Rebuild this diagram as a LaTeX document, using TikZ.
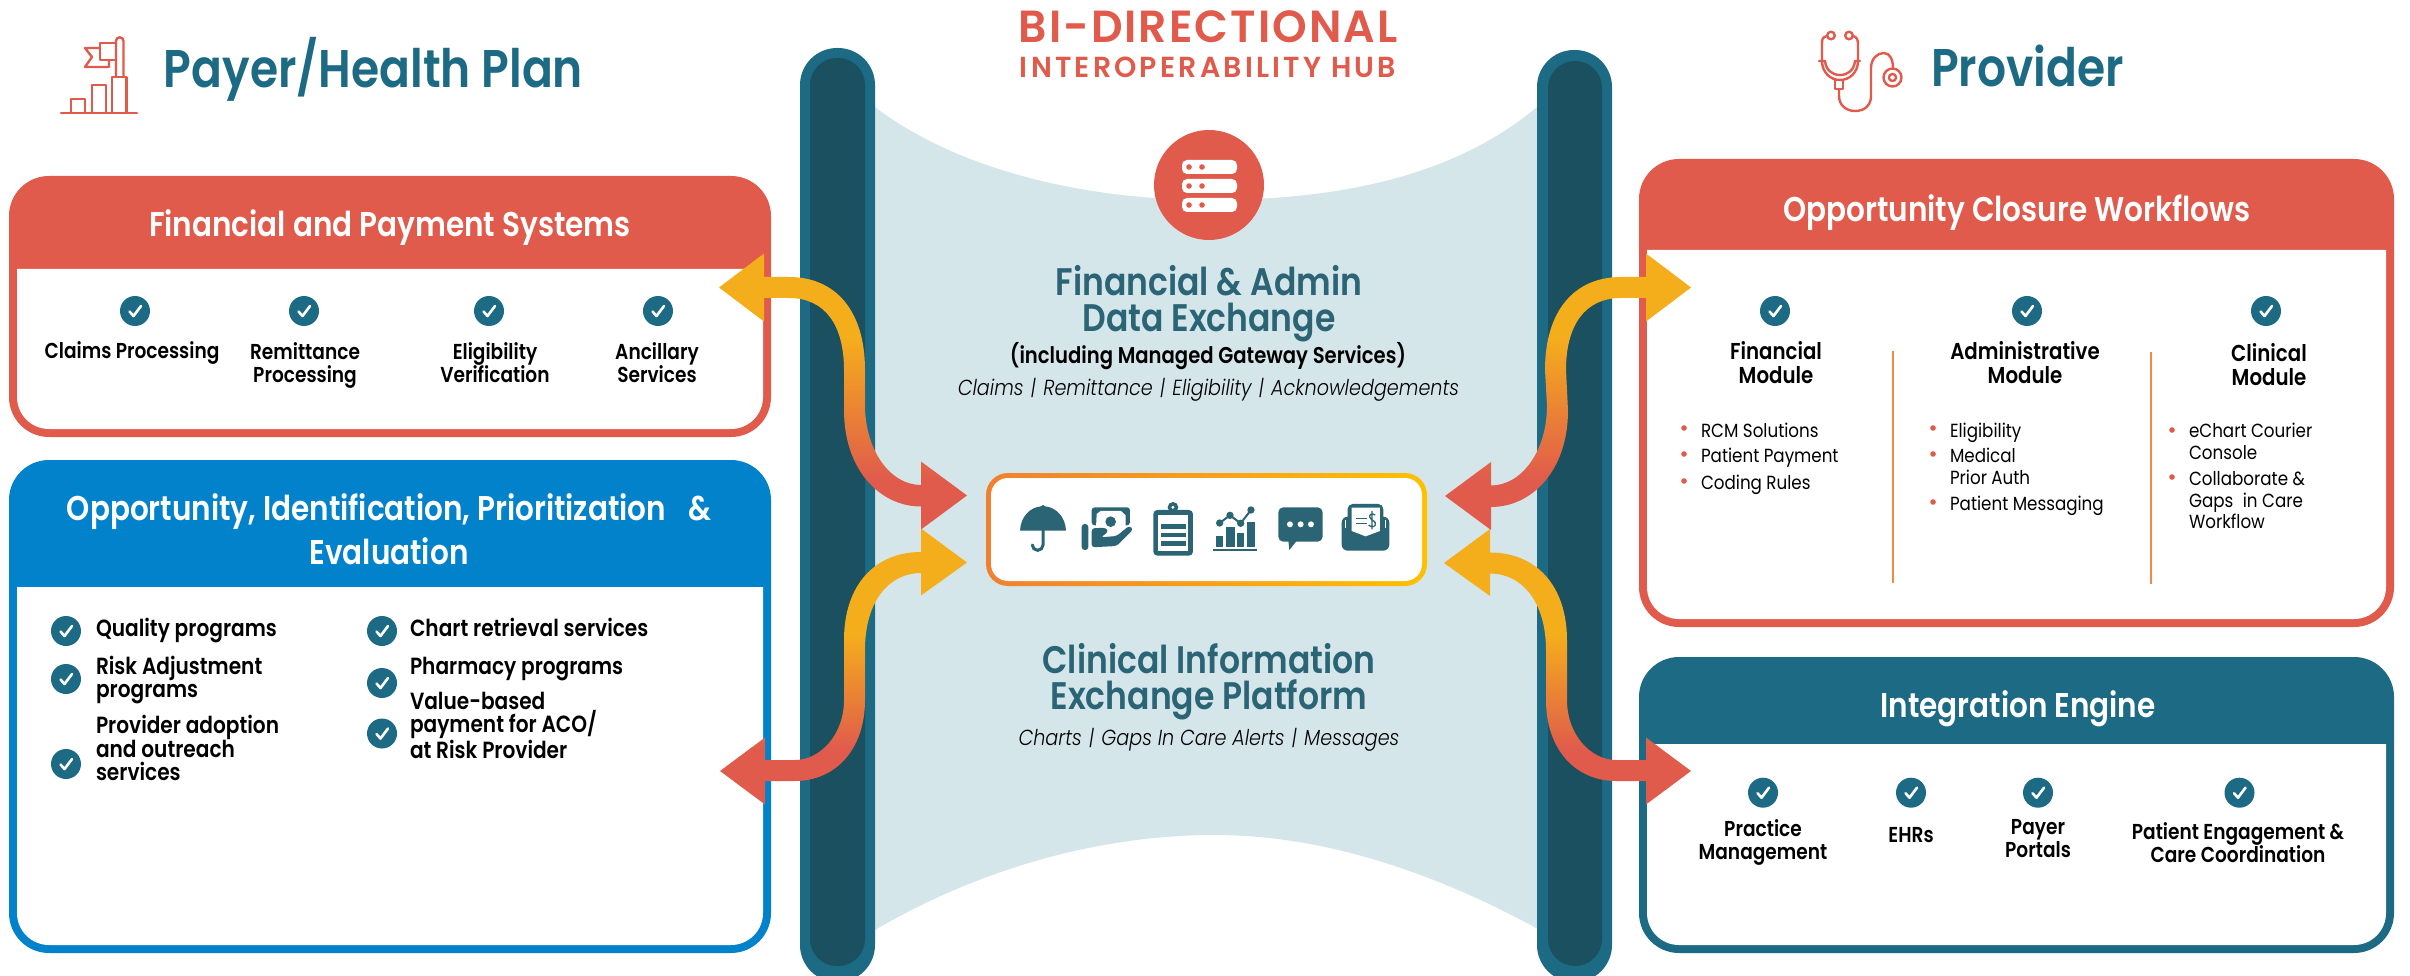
\documentclass[tikz,border=0pt]{standalone}
\usepackage{fontspec}
\usetikzlibrary{calc}
\setmainfont{Poppins}[FakeStretch=0.88]
\newfontfamily\medf{Poppins SemiBold}[FakeStretch=0.86]
\newfontfamily\trkf{Poppins SemiBold}[FakeStretch=0.98]
\newfontfamily\litf{Poppins Light}[FakeStretch=0.88]
\definecolor{coral}{HTML}{E05B4C}
\definecolor{tealc}{HTML}{1C6A83}
\definecolor{darkc}{HTML}{1A5060}
\definecolor{bluec}{HTML}{0382CC}
\definecolor{bandc}{HTML}{D5E6EB}
\definecolor{icoc}{HTML}{2B6475}
\definecolor{yellc}{HTML}{F5AE1B}
\definecolor{hubl}{HTML}{F08030}
\definecolor{hubr}{HTML}{FFC000}
\definecolor{divc}{HTML}{F08A3C}
\pgfdeclareverticalshading{upgrad}{100bp}{color(0bp)=(coral); color(34bp)=(coral); color(60bp)=(yellc); color(100bp)=(yellc)}
\pgfdeclareverticalshading{lowgrad}{100bp}{color(0bp)=(coral); color(35bp)=(coral); color(56bp)=(yellc); color(100bp)=(yellc)}
\tikzset{
 tx/.style={inner sep=0pt,outer sep=0pt,anchor=base,align=center},
 title/.style={tx,text=tealc,font=\medf\fontsize{53}{56}\selectfont},
 hdrw/.style={tx,text=white,font=\medf\fontsize{34.3}{44}\selectfont},
 lbl/.style={tx,text=black,font=\medf\fontsize{21.6}{23}\selectfont},
 lbll/.style={lbl,anchor=base west,align=left,font=\medf\fontsize{23.4}{23}\selectfont},
 modl/.style={lbl,font=\medf\fontsize{23}{24}\selectfont},
 hubh/.style={tx,text=icoc,font=\medf\fontsize{38.4}{36}\selectfont},
 ital/.style={tx,text=black,font=\litf\itshape\fontsize{21.8}{24}\selectfont},
 bul/.style={tx,anchor=base west,align=left,text=black,font=\fontsize{19}{21.5}\selectfont},
 chkdot/.style={circle,fill=tealc,minimum size=30pt,inner sep=0pt,outer sep=0pt},
 chkmark/.style={draw=white,line width=2.6pt,line cap=round,line join=round},
 coline/.style={draw=coral,line width=2.4pt,line cap=round,line join=round},
 ic/.style={fill=icoc,draw=none},
}
\newcommand{\chk}[3]{\node[chkdot] (#1) at (#2,#3) {};
 \draw[chkmark] ($(#1)+(-5.5,0.5)$) -- ++(4,4.5) -- ++(7.5,-10);}
\newcommand{\dotb}[2]{\fill[coral] (#1,#2) circle[radius=2.8];}
% \panel{name}{x1}{y1}{x2}{y2}{header bottom}{colour}
\newcommand{\panel}[7]{%
 \pgfmathsetmacro{\pw}{#4-#2}\pgfmathsetmacro{\ph}{#5-#3}%
 \pgfmathsetmacro{\pcx}{(#4+#2)/2}\pgfmathsetmacro{\pcy}{(#5+#3)/2}%
 \pgfmathsetmacro{\ia}{#2+8}\pgfmathsetmacro{\ib}{#4-8}\pgfmathsetmacro{\ic}{#5-8}\pgfmathsetmacro{\id}{#5-60}%
 \node[fill=#7,rectangle,rounded corners=40pt,minimum width=\pw pt,minimum height=\ph pt,inner sep=0pt,outer sep=0pt] (#1) at (\pcx,\pcy) {};
 \fill[white] (\ia,#6) -- (\ib,#6) -- (\ib,\id) [rounded corners=32pt] -- (\ib,\ic) -- (\ia,\ic) [sharp corners] -- (\ia,\id) -- cycle;}
% upper arrow: #1 panel tip, #2 hub tip, #3 sign
\newcommand{\uparr}[3]{%
 \def\s{#3}
 \path[shade,shading=upgrad] (#1)
 -- ($(#1)+(\s*45,-34)$) -- ($(#1)+(\s*45,-10.5)$) -- ($(#1)+(\s*70,-10.5)$)
 .. controls ($(#1)+(\s*116,-10.5)$) and ($(#1)+(\s*146,22.5)$) .. ($(#1)+(\s*146,82.5)$)
 -- ($(#2)+(-\s*102,-90.5)$)
 .. controls ($(#2)+(-\s*102,-45.5)$) and ($(#2)+(-\s*77,-10.5)$) .. ($(#2)+(-\s*46,-10.5)$)
 -- ($(#2)+(-\s*46,-34)$) -- (#2) -- ($(#2)+(-\s*46,34)$) -- ($(#2)+(-\s*46,11)$)
 .. controls ($(#2)+(-\s*87,11)$) and ($(#2)+(-\s*123,-25.5)$) .. ($(#2)+(-\s*123,-85.5)$)
 -- ($(#1)+(\s*125,82.5)$)
 .. controls ($(#1)+(\s*125,37.5)$) and ($(#1)+(\s*106,10.5)$) .. ($(#1)+(\s*70,10.5)$)
 -- ($(#1)+(\s*45,10.5)$) -- ($(#1)+(\s*45,34)$) -- cycle;}
% lower arrow: #1 hub tip, #2 panel tip, #3 sign
\newcommand{\lowarr}[3]{%
 \def\s{#3}
 \path[shade,shading=lowgrad] (#1)
 -- ($(#1)+(-\s*46,-34)$) -- ($(#1)+(-\s*46,-10.5)$)
 .. controls ($(#1)+(-\s*92,-10.5)$) and ($(#1)+(-\s*123,22.5)$) .. ($(#1)+(-\s*123,77.5)$)
 -- ($(#2)+(\s*124,-71)$)
 .. controls ($(#2)+(\s*124,-36)$) and ($(#2)+(\s*100,-11)$) .. ($(#2)+(\s*75,-11)$)
 -- ($(#2)+(\s*45,-11)$) -- ($(#2)+(\s*45,-33.5)$) -- (#2) -- ($(#2)+(\s*45,33.5)$) -- ($(#2)+(\s*45,10)$)
 -- ($(#2)+(\s*75,10)$)
 .. controls ($(#2)+(\s*115,10)$) and ($(#2)+(\s*145,-21)$) .. ($(#2)+(\s*145,-71)$)
 -- ($(#1)+(-\s*102,87.5)$)
 .. controls ($(#1)+(-\s*102,37.5)$) and ($(#1)+(-\s*77,10.5)$) .. ($(#1)+(-\s*46,10.5)$)
 -- ($(#1)+(-\s*46,33)$) -- cycle;}
\begin{document}
\begin{tikzpicture}[x=1pt,y=-1pt]
\useasboundingbox (0,0) rectangle (2410,976);
\fill[white] (0,0) rectangle (2410,976);
% band
\fill[bandc] (870,107) -- (875,107) .. controls (960,172) and (1090,200) .. (1209,200)
  .. controls (1330,200) and (1450,180) .. (1537,107) -- (1542,107) -- (1542,929) -- (1538,929)
  .. controls (1430,870) and (1320,835) .. (1215,835)
  .. controls (1080,835) and (960,880) .. (875,930) -- (870,930) -- cycle;
% columns
\begin{scope}
\clip (0,0) rectangle (2410,976);
\fill[tealc,rounded corners=37pt] (800,48) rectangle (875,982);
\fill[darkc,rounded corners=27pt] (810,58) rectangle (865,966);
\fill[tealc,rounded corners=37pt] (1537,50) rectangle (1612,982);
\fill[darkc,rounded corners=27pt] (1548,61) rectangle (1602,966);
\end{scope}
% titles
\node[title] (t1) at (373.5,88) {Payer/Health Plan};
\node[title] (t2) at (2027.5,86.5) {Provider};
\node[tx,text=coral,font=\trkf\fontsize{45}{48}\selectfont\addfontfeature{LetterSpace=4.5}] (t3) at (1208,43) {BI-DIRECTIONAL};
\node[tx,text=coral,font=\trkf\fontsize{29}{32}\selectfont\addfontfeature{LetterSpace=11}] (t4) at (1208,78) {INTEROPERABILITY HUB};
% payer icon
\draw[coline] (61,113) -- (137,113);
\draw[coline] (71,113) -- (71,99) -- (85,99) -- (85,113);
\draw[coline] (92,113) -- (92,85) -- (106,85) -- (106,113);
\draw[coline] (112,113) -- (112,77) -- (126.5,77) -- (126.5,113);
\draw[coline] (116,77) -- (116,41) arc[start angle=180,end angle=360,radius=3.75] -- (123.5,77);
\draw[coline] (116,43) -- (100,43) -- (100,60) -- (116,60);
\draw[coline] (100,48) -- (85,48) -- (92,57) -- (85,67) -- (109,67) -- (109,60);
% stethoscope icon
\draw[coline] (1831,35.5) circle[radius=3.8];
\draw[coline] (1849,35.5) circle[radius=3.8];
\draw[coline] (1827,36) .. controls (1822,37) and (1822,40) .. (1822,44) -- (1822,61) .. controls (1822,72) and (1830,80) .. (1840,80) .. controls (1850,80) and (1858,72) .. (1858,61) -- (1858,44) .. controls (1858,40) and (1857,37) .. (1853,36);
\draw[coline] (1819,61) -- (1825,61) .. controls (1826,70) and (1832,75) .. (1840,75) .. controls (1848,75) and (1854,70) .. (1855,61) -- (1860,61);
\draw[coline] (1835,80) -- (1835,89) -- (1843,89) -- (1843,80);
\draw[coline] (1839,89) -- (1839,96) .. controls (1839,105) and (1846,111) .. (1855,111) .. controls (1865,111) and (1871,105) .. (1871,96) -- (1871,68) .. controls (1871,59) and (1877,53) .. (1884,53) .. controls (1890,53) and (1893,60) .. (1893,68);
\draw[coline] (1892.5,77.5) circle[radius=9];
\draw[coline] (1892.5,77.5) circle[radius=3.6];
% left panel 1
\panel{p1}{9}{176}{771}{437}{269}{coral}
\node[hdrw] (p1h) at (390,237) {Financial and Payment Systems};
\chk{c1}{135}{311}\chk{c2}{304}{311}\chk{c3}{489}{311}\chk{c4}{658}{311}
\node[lbl] (l1) at (132,359) {Claims Processing};
\node[lbl] (l2) at (305,382) {Remittance\\Processing};
\node[lbl] (l3) at (495,382) {Eligibility\\Verification};
\node[lbl] (l4) at (657,382) {Ancillary\\Services};
% left panel 2
\panel{p2}{9}{460}{771}{953}{587}{bluec}
\node[hdrw] (p2h) at (389,564) {Opportunity, Identification, Prioritization\hspace{22pt}\&\\Evaluation};
\chk{d1}{66}{631}\chk{d2}{66}{679}\chk{d3}{66}{764}
\chk{d4}{382}{631}\chk{d5}{382}{683}\chk{d6}{382}{733.5}
\node[lbll] (m1) at (96,636) {Quality programs};
\node[lbll] (m2) at (96,697) {Risk Adjustment\\programs};
\node[lbll] (m3) at (96,780.5) {Provider adoption\\and outreach\\services};
\node[lbll] (m4) at (410,636) {Chart retrieval services};
\node[lbll] (m5) at (410,674) {Pharmacy programs};
\node[lbll] (m6) at (410,758) {Value-based\\payment for ACO/\\at Risk Provider};
% right panel 1
\panel{p3}{1639}{159}{2394}{627}{250}{coral}
\node[hdrw] (p3h) at (2017,222) {Opportunity Closure Workflows};
\chk{e1}{1775}{311}\chk{e2}{2027}{311}\chk{e3}{2266}{311}
\node[modl] (n1) at (1776,383) {Financial\\Module};
\node[modl] (n2) at (2025,383) {Administrative\\Module};
\node[modl] (n3) at (2269,385) {Clinical\\Module};
\draw[divc,line width=2pt] (1893,351) -- (1893,583);
\draw[divc,line width=2pt] (2151,352) -- (2151,584);
\dotb{1684}{428}\dotb{1684}{454}\dotb{1684}{481}
\node[bul] (b1) at (1701,437) {RCM Solutions};
\node[bul] (b2) at (1701,462.5) {Patient Payment};
\node[bul] (b3) at (1701,489) {Coding Rules};
\dotb{1933}{428}\dotb{1933}{454}\dotb{1933}{502}
\node[bul] (b4) at (1950,437) {Eligibility};
\node[bul] (b5) at (1950,484) {Medical\\Prior Auth};
\node[bul] (b6) at (1950,510) {Patient Messaging};
\dotb{2172}{430}\dotb{2172}{477}
\node[bul] (b7) at (2189,459) {eChart Courier\\Console};
\node[bul] (b8) at (2189,528.5) {Collaborate \&\\Gaps\hspace{5pt} in Care\\Workflow};
% right panel 2
\panel{p4}{1639}{657}{2394}{953}{744}{tealc}
\node[hdrw] (p4h) at (2018,717) {Integration Engine};
\chk{f1}{1763}{792.7}\chk{f2}{1911}{792.7}\chk{f3}{2038}{792.7}\chk{f4}{2239.5}{792.7}
\node[lbl] (g1) at (1763,859) {Practice\\Management};
\node[lbl] (g2) at (1911,842) {EHRs};
\node[lbl] (g3) at (2038,857) {Payer\\Portals};
\node[lbl] (g4) at (2238,862) {Patient Engagement \&\\Care Coordination};
% hub circle + server icon
\node[circle,fill=coral,minimum size=110pt,inner sep=0pt] (srv) at (1209,185) {};
\foreach \yy in {160,179,198}{
 \fill[white,rounded corners=5pt] (1182,\yy) rectangle (1237,\yy+14);
 \fill[coral] (1189,\yy+7) circle[radius=2.8];
 \fill[coral] (1202,\yy+7) circle[radius=2.8];
}
% hub texts
\node[hubh] (h1) at (1209,332) {Financial \& Admin\\Data Exchange};
\node[lbl,font=\medf\fontsize{22.8}{23}\selectfont] (h2) at (1208,363) {(including Managed Gateway Services)};
\node[ital] (h3) at (1208.5,395) {Claims\,\,|\,\,Remittance\,\,|\,\,Eligibility\,\,|\,\,Acknowledgements};
\node[hubh] (h4) at (1209,709) {Clinical Information\\Exchange Platform};
\node[ital] (h5) at (1209,745) {Charts\,\,|\,\,Gaps In Care Alerts\,\,|\,\,Messages};
% hub box
\shade[left color=hubl,right color=hubr,rounded corners=22pt] (986,473) rectangle (1427,586);
\node[fill=white,rectangle,rounded corners=17pt,minimum width=431pt,minimum height=103pt,inner sep=0pt] (hub) at (1206.5,529.5) {};
\begin{scope}[shift={(970,460)},x=0.3333pt,y=-0.3333pt]
 % umbrella
 \fill[ic] (150,212) .. controls (152,170) and (180,142) .. (213,139) -- (219,135) -- (225,139) .. controls (258,142) and (286,170) .. (288,212) -- cycle;
 \draw[icoc,line width=3pt,line cap=round] (219,212) -- (219,255) arc[start angle=0,end angle=180,radius=16];
 % money hand
 \fill[ic,rounded corners=3pt] (335,192) rectangle (355,270);
 \fill[ic,rounded corners=3pt] (365,142) rectangle (480,196);
 \fill[white] (380,162) -- (392,153) -- (453,153) -- (467,166) -- (467,200) -- (378,205) -- cycle;
 \fill[ic] (422,185) circle[radius=16];
 \fill[ic,rounded corners=3pt] (365,205) -- (408,203) -- (415,216) -- (392,232) -- (440,228) -- (478,197) -- (490,208) -- (440,258) -- (365,262) -- cycle;
 % clipboard
 \fill[ic,rounded corners=4pt] (550,150) rectangle (669,287);
 \fill[ic] (609,142) circle[radius=16];
 \fill[white] (609,142) circle[radius=5];
 \fill[white] (565,165) rectangle (655,274);
 \fill[ic] (573,192) rectangle (648,206);
 \fill[ic] (573,218) rectangle (648,232);
 \fill[ic] (573,243) rectangle (648,258);
 % chart
 \fill[ic] (730,267) rectangle (862,274);
 \fill[ic] (738,227) rectangle (760,260);
 \fill[ic] (768,202) rectangle (794,260);
 \fill[ic] (800,218) rectangle (822,260);
 \fill[ic] (830,186) rectangle (854,260);
 \draw[icoc,line width=2pt] (749,189) -- (780,166) -- (812,190) -- (843,150);
 \foreach \px/\py in {749/189,780/166,812/190,843/150}{\fill[ic] (\px,\py) circle[radius=11];}
 % bubble
 \fill[ic,rounded corners=5pt] (925,142) rectangle (1058,245);
 \fill[ic] (955,240) -- (958,270) -- (982,240) -- cycle;
 \foreach \px in {960,992,1023}{\fill[white] (\px,193) circle[radius=9];}
 % envelope
 \fill[ic,rounded corners=6pt] (1115,170) rectangle (1258,272);
 \fill[ic,rounded corners=5pt] (1133,132) rectangle (1240,225);
 \fill[white] (1145,143) -- (1230,143) -- (1230,213) -- (1187,229) -- (1145,213) -- cycle;
 \draw[white,line width=1.2pt] (1127,180) -- (1127,205) (1246,180) -- (1246,205);
 \draw[icoc,line width=1.5pt] (1158,175) -- (1190,175) (1158,190) -- (1190,190);
 \draw[icoc,line width=1.3pt] (1216,165) .. controls (1205,158) and (1196,165) .. (1200,173) .. controls (1205,183) and (1220,183) .. (1216,195) .. controls (1212,203) and (1200,200) .. (1196,195) (1206,153) -- (1206,208);
\end{scope}
% arrows
\coordinate (A1) at (719,287.5);
\coordinate (B1) at (967,495.5);
\coordinate (C1) at (967,562.5);
\coordinate (D1) at (720,771);
\coordinate (A2) at (1691,287.5);
\coordinate (B2) at (1445,496);
\coordinate (C2) at (1444,563);
\coordinate (D2) at (1691,771);
\uparr{A1}{B1}{1}
\lowarr{C1}{D1}{1}
\uparr{A2}{B2}{-1}
\lowarr{C2}{D2}{-1}
\end{tikzpicture}
\end{document}
